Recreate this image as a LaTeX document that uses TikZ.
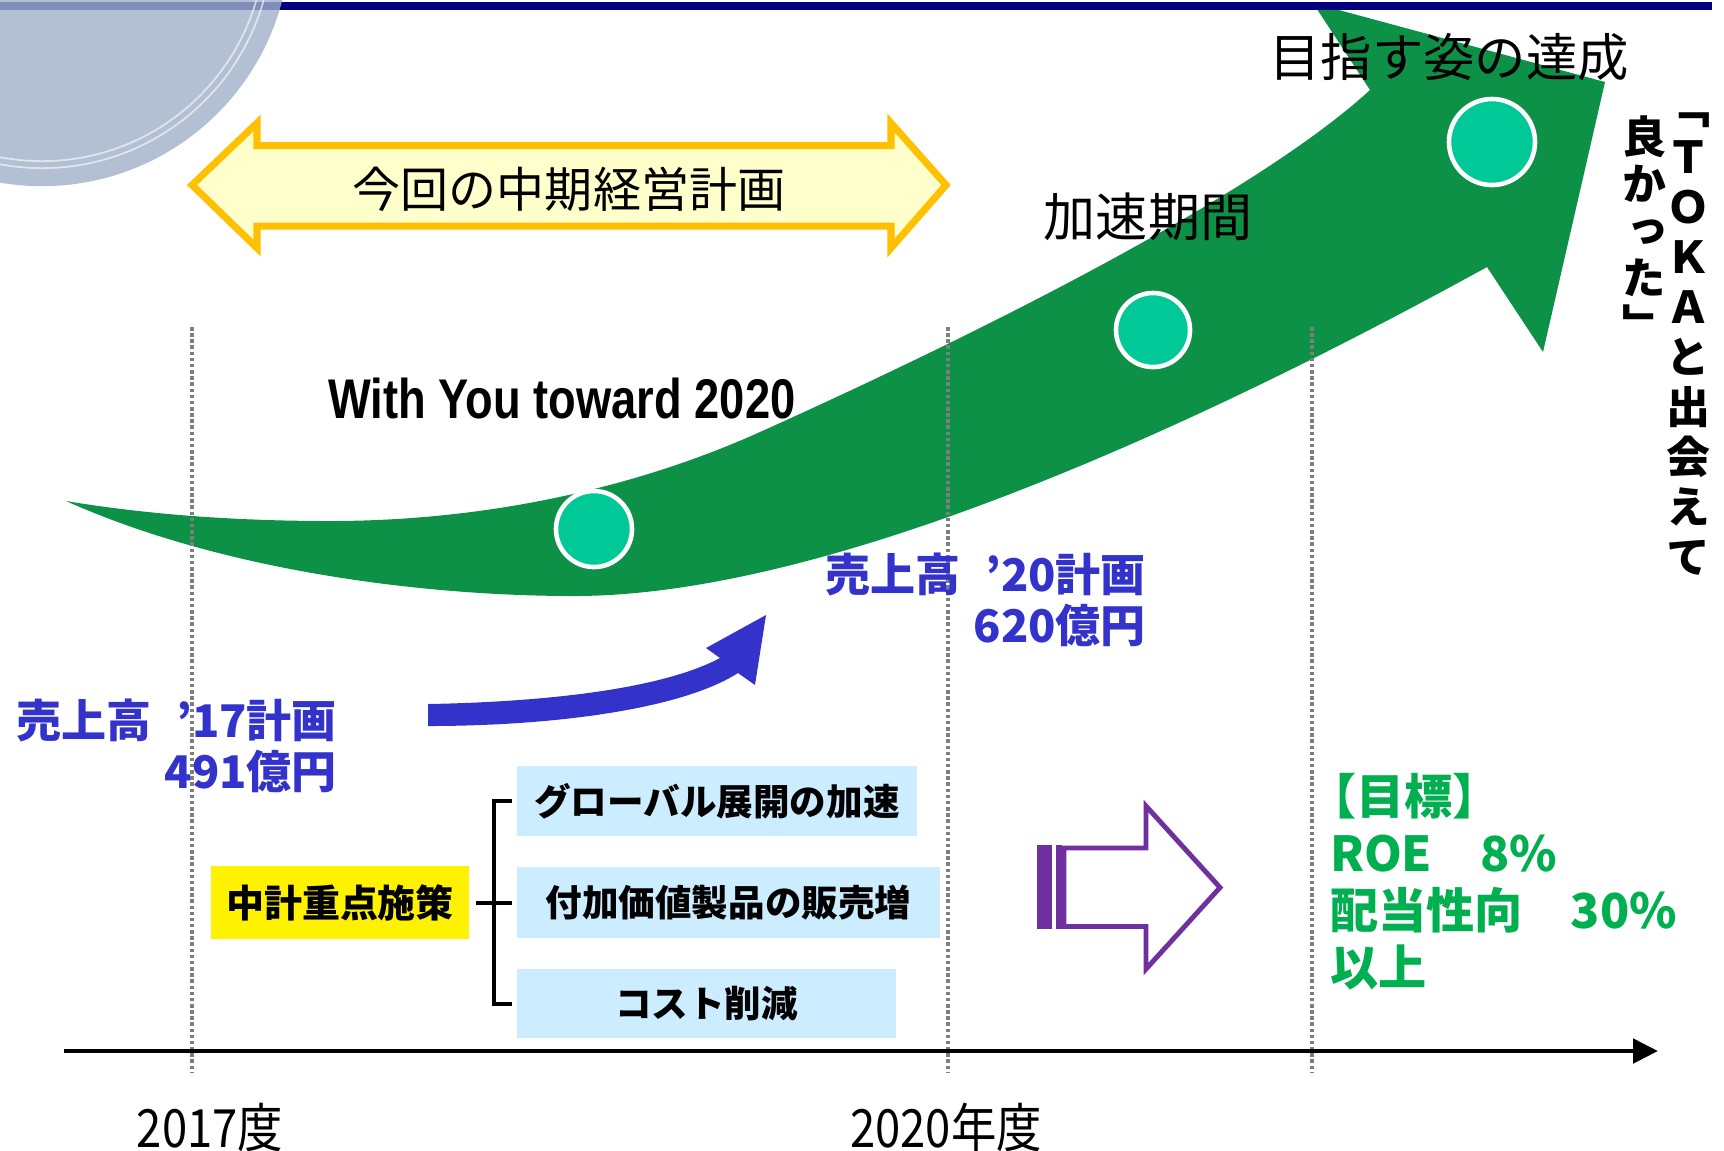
\documentclass[tikz,border=0pt]{standalone}
\usepackage{fontspec}
\usetikzlibrary{arrows.meta}
\setmainfont{Noto Sans CJK JP}
\newfontfamily\jpv[RawFeature=+vert]{Noto Sans CJK JP}
\newfontfamily\jpnarrow[FakeStretch=0.86]{Noto Sans CJK JP}
\newfontfamily\wytfont[FakeStretch=0.81]{Liberation Sans}
\definecolor{navyL}{HTML}{000080}
\definecolor{circG}{RGB}{161,176,201}
\definecolor{yelL}{HTML}{FFC000}
\definecolor{yelF}{HTML}{FFFFCC}
\definecolor{greenA}{HTML}{0C9146}
\definecolor{tealC}{HTML}{00C896}
\definecolor{blueT}{HTML}{3333CC}
\definecolor{goalG}{HTML}{00B050}
\definecolor{lblue}{HTML}{CCECFF}
\definecolor{purpA}{HTML}{7030A0}
\definecolor{dotG}{HTML}{7F7F7F}
\begin{document}
\begin{tikzpicture}[x=0.01cm,y=-0.01cm,
  lbl/.style={inner sep=0pt, outer sep=0pt},
  vch/.style={lbl, anchor=base, font=\jpv\bfseries\fontsize{12.5}{12.5}\selectfont},
  dotline/.style={dotG, line width=0.95pt, dash pattern=on 1pt off 0.75pt},
  pointc/.style={circle, inner sep=0pt, fill=tealC, draw=white, line width=1.3pt},
  boxb/.style={lbl, fill=lblue, font=\bfseries\fontsize{10.4}{12}\selectfont},
  bluelbl/.style={lbl, text=blueT, align=right, font=\bfseries\fontsize{12.8}{14.5}\selectfont},
  brk/.style={black, line width=1.15pt},
  ]
\useasboundingbox (0,0) rectangle (1724,1150);
\fill[white] (0,0) rectangle (1724,1150);

% big green arrow
\fill[greenA] (66,501) .. controls (150,515) and (240,521) .. (330,521)
  .. controls (480,521) and (630,490.5) .. (760,432)
  .. controls (960,342) and (1250,200) .. (1370,90)
  -- (1313,3) -- (1605,82) -- (1543,352) -- (1487,267)
  .. controls (1187,432) and (824,596) .. (574,596)
  .. controls (420,596) and (220,570) .. (66,501) -- cycle;

\node[pointc, minimum size=0.76cm] (p1) at (594,529) {};
\node[pointc, minimum size=0.74cm] (p2) at (1153,330) {};
\node[pointc, minimum size=0.86cm] (p3) at (1492,142) {};

% dotted period lines
\draw[dotline] (192,327) -- (192,1073);
\draw[dotline] (948,327) -- (948,1073);
\draw[dotline] (1312,327) -- (1312,1073);

% top band and decoration circle
\fill[navyL] (0,2) rectangle (1712,10);
\fill[circG, opacity=0.8] (42,-62) circle[radius=2.48cm];
\draw[white, opacity=0.6, line width=0.5pt] (42,-62) circle[radius=2.30cm];
\draw[white, opacity=0.6, line width=0.5pt] (42,-62) circle[radius=2.23cm];

% yellow double arrow
\draw[yelL, fill=yelF, line width=2pt, line join=miter] (192,185) -- (257,123) -- (257,145.5) -- (891,145.5) -- (891,123) -- (946,185) -- (891,248) -- (891,226) -- (257,226) -- (257,248) -- cycle;
\node[lbl, font=\fontsize{13.66}{14}\selectfont] (plan) at (569,189) {今回の中期経営計画};

\node[lbl, font=\fontsize{14.6}{15}\selectfont] (goal) at (1449,57) {目指す姿の達成};
\node[lbl, font=\fontsize{14.8}{15}\selectfont] (accel) at (1148,217) {加速期間};
\node[lbl, font=\wytfont\bfseries\fontsize{15.9}{16}\selectfont] (wyt) at (562,398) {With You toward 2020};

% blue arrow
\fill[blueT] (428,704) .. controls (540,702) and (660,690) .. (720,658) -- (706,648) -- (766,615) -- (755,685) -- (738,673) .. controls (680,710) and (550,726) .. (428,726) -- cycle;

\node[bluelbl, anchor=east] (s17) at (337,746) {売上高\hspace{0.55em}’17計画\\491億円};
\node[bluelbl, anchor=east] (s20) at (1146,600) {売上高\hspace{0.55em}’20計画\\620億円};

% key measures
\node[lbl, fill=yellow, minimum width=2.58cm, minimum height=0.73cm, font=\bfseries\fontsize{10.8}{12}\selectfont] (key) at (340,902.5) {中計重点施策};
\node[boxb, minimum width=4.00cm, minimum height=0.70cm] (m1) at (717,801) {グローバル展開の加速};
\node[boxb, minimum width=4.23cm, minimum height=0.71cm] (m2) at (728.5,902.5) {付加価値製品の販売増};
\node[boxb, minimum width=3.79cm, minimum height=0.69cm] (m3) at (706.5,1003.5) {コスト削減};
\draw[brk] ([xshift=-0.05cm]m1.west) -| ([xshift=-0.23cm]m3.west) -- ([xshift=-0.05cm]m3.west);
\draw[brk] ([xshift=0.07cm]key.east) -- ([xshift=-0.05cm]m2.west);

% time axis
\coordinate (ax0) at (64,1051);
\coordinate (ax1) at (1658,1051);
\draw[line width=1.4pt, -{Triangle[length=0.25cm, width=0.24cm]}] (ax0) -- (ax1);
\node[lbl, font=\jpnarrow\fontsize{15}{15}\selectfont] (y17) at (210,1127) {2017度};
\node[lbl, font=\jpnarrow\fontsize{15}{15}\selectfont] (y20) at (946,1127) {2020年度};

% purple striped arrow
\fill[purpA] (1037,845) rectangle (1052,929);
\fill[purpA] (1056,845) rectangle (1062,929);
\draw[purpA, line width=1.4pt, line join=miter, fill=white] (1064,848) -- (1146,848) -- (1146,806) -- (1220,887.5) -- (1146,969) -- (1146,926.5) -- (1064,926.5) -- cycle;

% target text
\node[lbl, anchor=west, text=goalG, align=left, font=\bfseries\fontsize{13.7}{16.2}\selectfont] (tgt) at (1330,882) {\hspace*{-0.45em}【目標】\\ROE　8\%\\配当性向　30\%\\以上};

% vertical text
\foreach \c [count=\i] in {「,Ｔ,Ｏ,Ｋ,Ａ,と,出,会,え,て}
  \node[vch] (vr\i) at (1688, 73+50*\i) {\c};
\foreach \c [count=\i] in {良,か,っ,た,」}
  \node[vch] (vl\i) at (1644, 106+47*\i) {\c};
\end{tikzpicture}
\end{document}
